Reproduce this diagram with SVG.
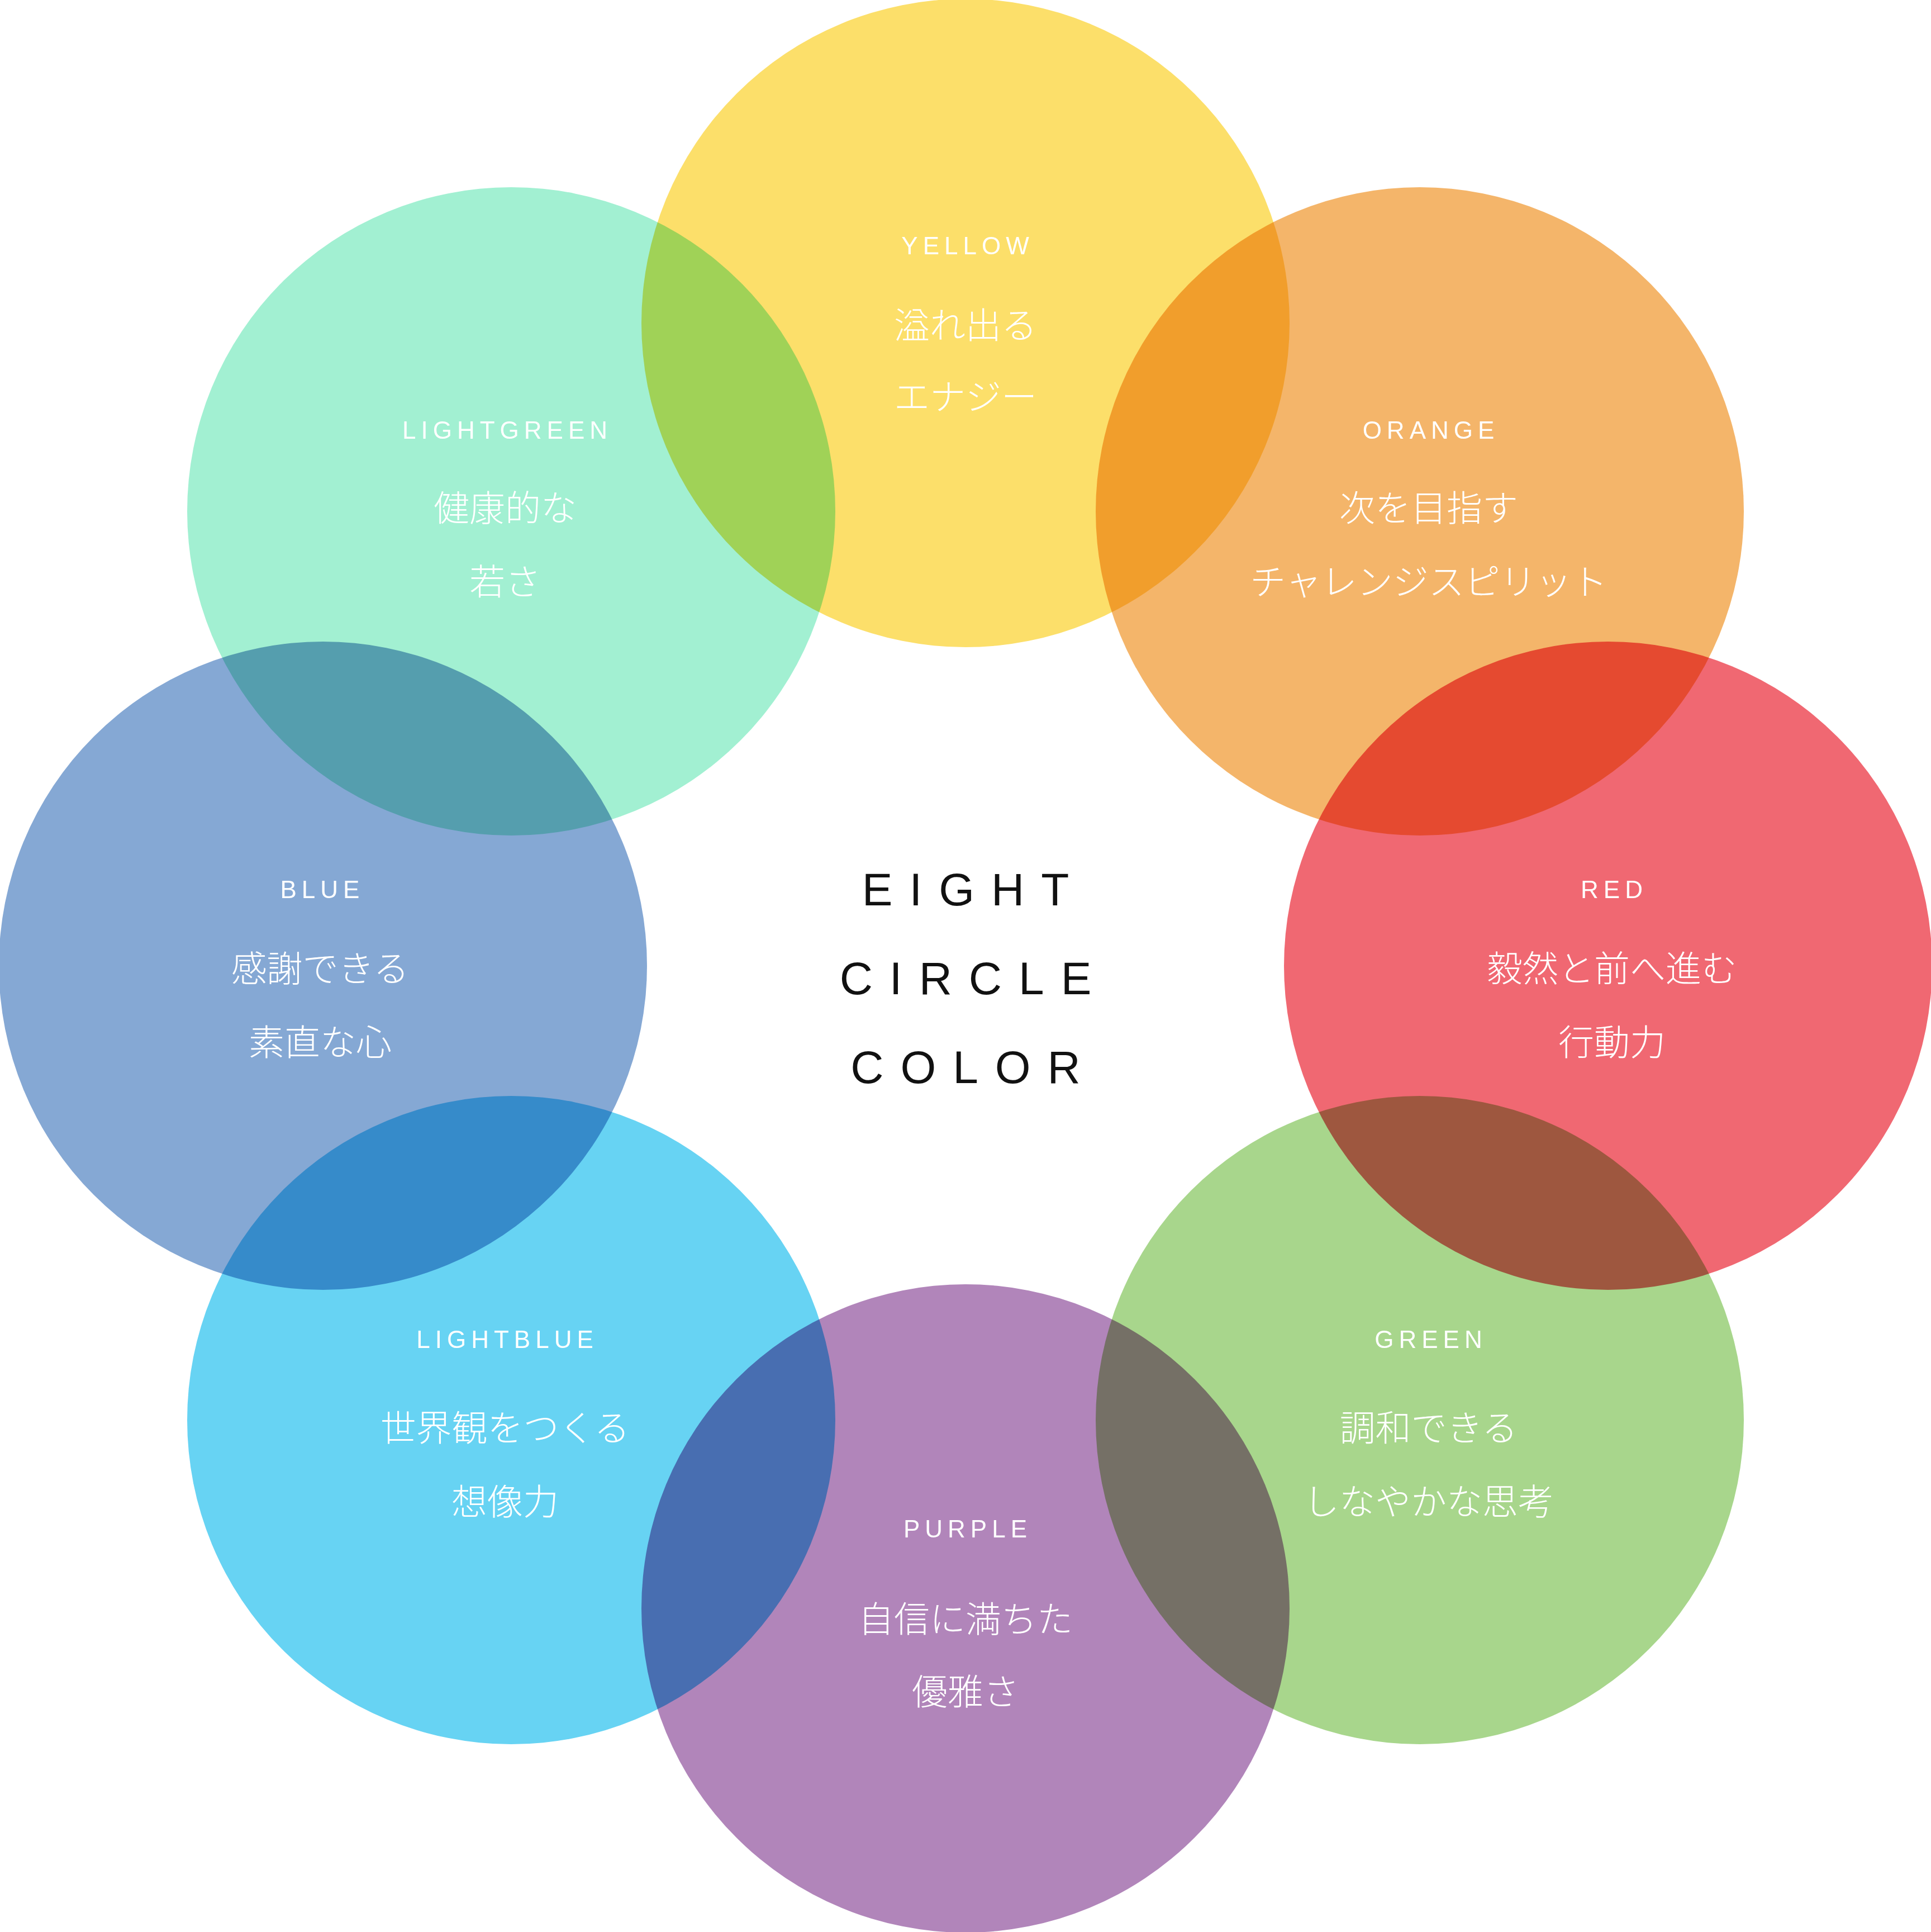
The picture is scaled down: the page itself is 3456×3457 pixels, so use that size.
<svg xmlns="http://www.w3.org/2000/svg" width="3456" height="3457" viewBox="0 0 3456 3457">
<style>
.c{mix-blend-mode:multiply}
.l{font-family:"Liberation Sans","Noto Sans",sans-serif;font-size:44px;letter-spacing:9px;fill:#fff;text-anchor:middle;dominant-baseline:central}
.j{font-family:"Noto Sans CJK JP",sans-serif;font-size:64px;font-weight:300;fill:#fff;text-anchor:middle;dominant-baseline:central}
.m{font-family:"Liberation Sans","Noto Sans",sans-serif;font-size:82px;letter-spacing:30px;fill:#111;text-anchor:middle;dominant-baseline:central}
</style>
<rect width="3456" height="3457" fill="#fff"/>
<g id="circles" style="isolation:isolate">
<circle id="yellow" class="c" cx="1728" cy="578" r="580" fill="#FCDF6A"/>
<circle id="orange" class="c" cx="2541" cy="915" r="580" fill="#F4B56A"/>
<circle id="red" class="c" cx="2878" cy="1728" r="580" fill="#F06872"/>
<circle id="green" class="c" cx="2541" cy="2541" r="580" fill="#A8D68C"/>
<circle id="purple" class="c" cx="1728" cy="2878" r="580" fill="#B185BA"/>
<circle id="lightblue" class="c" cx="915" cy="2541" r="580" fill="#67D3F3"/>
<circle id="blue" class="c" cx="578" cy="1728" r="580" fill="#85A8D4"/>
<circle id="lightgreen" class="c" cx="915" cy="915" r="580" fill="#A2F0D2"/>
</g>
<g id="t-yellow"><text class="l" x="1732" y="439">YELLOW</text><text class="j" x="1728" y="577">溢れ出る</text><text class="j" x="1728" y="705">エナジー</text></g>
<g id="t-orange"><text class="l" x="2561" y="769">ORANGE</text><text class="j" x="2557" y="904">次を目指す</text><text class="j" x="2557" y="1036">チャレンジスピリット</text></g>
<g id="t-lightgreen"><text class="l" x="908" y="769">LIGHTGREEN</text><text class="j" x="904" y="904">健康的な</text><text class="j" x="904" y="1036">若さ</text></g>
<g id="t-red"><text class="l" x="2889" y="1591">RED</text><text class="j" x="2885" y="1728">毅然と前へ進む</text><text class="j" x="2885" y="1860">行動力</text></g>
<g id="t-blue"><text class="l" x="577" y="1591">BLUE</text><text class="j" x="573" y="1728">感謝できる</text><text class="j" x="573" y="1860">素直な心</text></g>
<g id="t-green"><text class="l" x="2561" y="2396">GREEN</text><text class="j" x="2557" y="2550">調和できる</text><text class="j" x="2557" y="2682">しなやかな思考</text></g>
<g id="t-lightblue"><text class="l" x="908" y="2396">LIGHTBLUE</text><text class="j" x="904" y="2550">世界観をつくる</text><text class="j" x="904" y="2682">想像力</text></g>
<g id="t-purple"><text class="l" x="1732" y="2735">PURPLE</text><text class="j" x="1728" y="2892">自信に満ちた</text><text class="j" x="1728" y="3022">優雅さ</text></g>
<g id="center"><text class="m" x="1743" y="1591">EIGHT</text><text class="m" x="1743" y="1750">CIRCLE</text><text class="m" x="1743" y="1909">COLOR</text></g>
</svg>
